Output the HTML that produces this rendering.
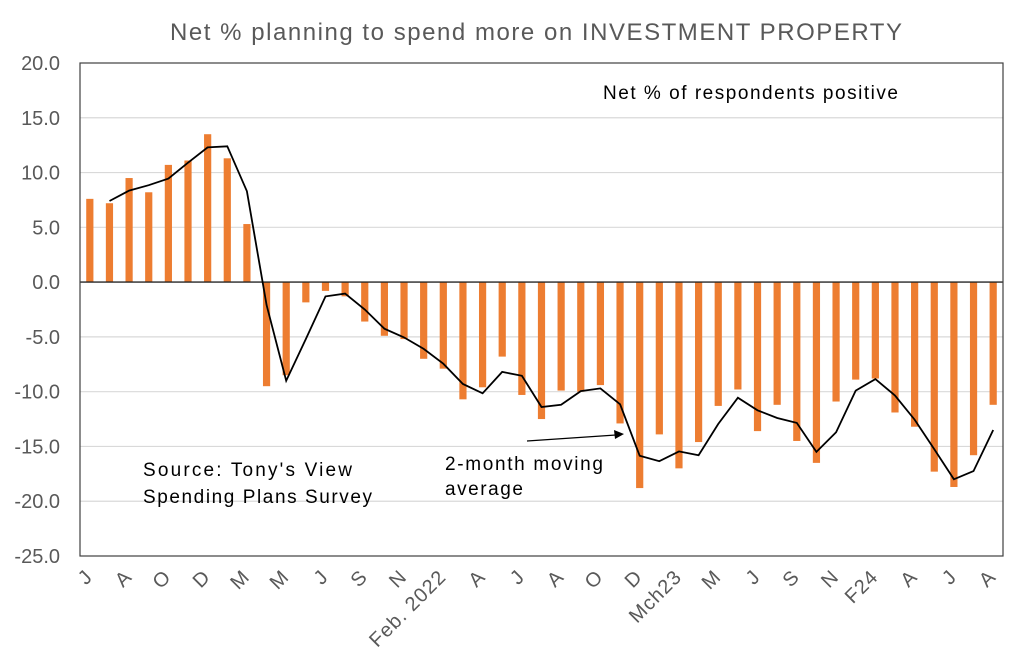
<!DOCTYPE html>
<html><head><meta charset="utf-8"><style>
body{margin:0;background:#fff;}
svg{display:block;font-family:"Liberation Sans",sans-serif;}
</style></head><body>
<svg id="c" width="1024" height="669" xmlns="http://www.w3.org/2000/svg">
<text x="170" y="40" textLength="732" lengthAdjust="spacing" font-size="24" fill="#595959">Net % planning to spend more on INVESTMENT PROPERTY</text>
<g id="grid"></g><g id="bars"></g><g id="line"></g><g id="yt"></g><g id="xt"></g>
<rect x="80" y="63" width="923" height="493" fill="none" stroke="#404040" stroke-width="1.2"/>
<text x="603" y="99" font-size="19" textLength="295" lengthAdjust="spacing" fill="#000">Net % of respondents positive</text>
<text x="143" y="476" font-size="19" textLength="209" lengthAdjust="spacing" fill="#000">Source: Tony's View</text>
<text x="143" y="503" font-size="19" textLength="229" lengthAdjust="spacing" fill="#000">Spending Plans Survey</text>
<text x="445" y="470" font-size="19" textLength="158" lengthAdjust="spacing" fill="#000">2-month moving</text>
<text x="445" y="495" font-size="19" textLength="78" lengthAdjust="spacing" fill="#000">average</text>
<line x1="527" y1="441" x2="616" y2="435" stroke="#000" stroke-width="1.2"/>
<polygon points="624,434 614,430 615,439" fill="#000"/>
</svg>
<script>
const values=[7.6,7.2,9.5,8.2,10.7,11.1,13.5,11.3,5.3,-9.5,-8.5,-1.85,-0.8,-1.3,-3.6,-4.9,-5.2,-7.0,-7.9,-10.7,-9.6,-6.8,-10.3,-12.5,-9.9,-10.0,-9.4,-12.9,-18.8,-13.9,-17.0,-14.6,-11.3,-9.8,-13.6,-11.2,-14.5,-16.5,-10.9,-8.9,-8.8,-11.9,-13.2,-17.3,-18.7,-15.8,-11.2];
const movingAvg=[null,7.4,8.35,8.85,9.45,10.9,12.3,12.4,8.3,-2.1,-9.0,-5.2,-1.3,-1.05,-2.5,-4.25,-5.05,-6.1,-7.45,-9.3,-10.15,-8.2,-8.55,-11.4,-11.2,-9.95,-9.7,-11.15,-15.85,-16.35,-15.45,-15.8,-12.95,-10.55,-11.7,-12.4,-12.85,-15.5,-13.7,-9.9,-8.85,-10.35,-12.55,-15.25,-18.0,-17.25,-13.5];
const xLabels=["J","A","O","D","M","M","J","S","N","Feb. 2022","A","J","A","O","D","Mch23","M","J","S","N","F24","A","J","A"];
const yTicks=[20,15,10,5,0,-5,-10,-15,-20,-25];
const NS="http://www.w3.org/2000/svg";
const L=80,R=1003,T=63,B=556,ymax=20,ymin=-25;
const bw=(R-L)/values.length;
const X=i=>L+(i+0.5)*bw;
const Y=v=>T+(ymax-v)/(ymax-ymin)*(B-T);
function mk(t,a,p){const e=document.createElementNS(NS,t);for(const k in a)e.setAttribute(k,a[k]);p.appendChild(e);return e;}
const g=document.getElementById('grid'),yt=document.getElementById('yt');
yTicks.forEach(v=>{
  if(v!==0&&v!==ymax&&v!==ymin){const l=mk('line',{x1:L,x2:R,y1:Y(v),y2:Y(v),stroke:'#d9d9d9','stroke-width':1.2},g);
  
  }
  const t=mk('text',{x:60,y:Y(v)+7,'text-anchor':'end','font-size':20,fill:'#595959'},yt);
  t.textContent=v.toFixed(1);
  
  
});
const bg=document.getElementById('bars');
values.forEach((v,i)=>{
  const r=mk('rect',{x:X(i)-3.6,y:Math.min(Y(v),Y(0)),width:7.2,height:Math.abs(Y(v)-Y(0)),fill:'#ed7d31'},bg);
  
  
});
const z=mk('line',{x1:L,x2:R,y1:Y(0),y2:Y(0),stroke:'#262626','stroke-width':1.4},bg);


let d='';movingAvg.forEach((v,i)=>{if(v===null)return;d+=(d?'L':'M')+X(i).toFixed(1)+','+Y(v).toFixed(1);});
const p=mk('path',{d:d,fill:'none',stroke:'#000','stroke-width':1.8},document.getElementById('line'));


const xg=document.getElementById('xt');
xLabels.forEach((s,k)=>{
  const x=X(k*2)+4,y=578;
  const t=mk('text',{x:x,y:y,'text-anchor':'end','font-size':20,'letter-spacing':'1',fill:'#595959',transform:`rotate(-45 ${x} ${y})`},xg);
  t.textContent=s;
  
  
});
</script>
</body></html>
